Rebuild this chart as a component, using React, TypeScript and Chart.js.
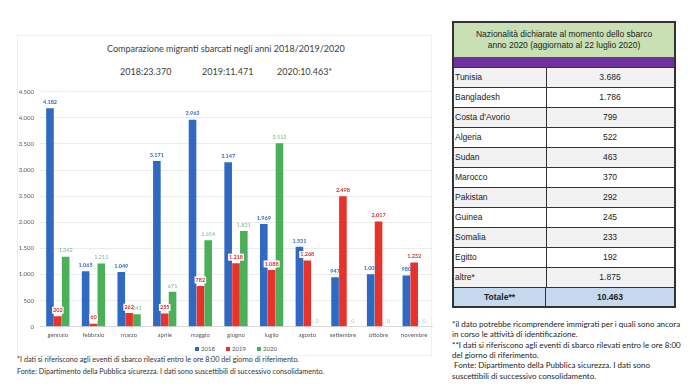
import React, { useEffect, useRef } from 'react';
import { Chart, registerables } from 'chart.js';

Chart.register(...registerables);

const months = ['gennaio', 'febbraio', 'marzo', 'aprile', 'maggio', 'giugno', 'luglio', 'agosto', 'settembre', 'ottobre', 'novembre'];
const years = ['2018', '2019', '2020'];
const values2018 = [4182, 1065, 1049, 3171, 3963, 3147, 1969, 1531, 947, 1007, 980];
const values2019 = [202, 60, 262, 255, 782, 1218, 1088, 1268, 2498, 2017, 1232];
const values2020 = [1342, 1211, 241, 671, 1654, 1831, 3513, 0, 0, 0, 0];
const yMax = 4500;
const yStep = 500;

const chartTitle = 'Comparazione migranti sbarcati negli anni 2018/2019/2020';
const yearTotals = ['2018:23.370', '2019:11.471', '2020:10.463*'];

const tableTitle = ['Nazionalità dichiarate al momento dello sbarco', 'anno 2020 (aggiornato al 22 luglio 2020)'];
const countries = ['Tunisia', 'Bangladesh', "Costa d'Avorio", 'Algeria', 'Sudan', 'Marocco', 'Pakistan', 'Guinea', 'Somalia', 'Egitto', 'altre*'];
const countryCounts = ['3.686', '1.786', '799', '522', '463', '370', '292', '245', '233', '192', '1.875'];
const totalLabel = 'Totale**';
const totalValue = '10.463';

const leftNotes = [
  '*I dati si riferiscono agli eventi di sbarco rilevati entro le ore 8:00 del giorno di riferimento.',
  'Fonte: Dipartimento della Pubblica sicurezza. I dati sono suscettibili di successivo consolidamento.',
];
const rightNotes = [
  '*il dato potrebbe ricomprendere immigrati per i quali sono ancora',
  'in corso le attività di identificazione.',
  '**I dati si riferiscono agli eventi di sbarco rilevati entro le ore 8:00',
  'del giorno di riferimento.',
  '\u00a0Fonte: Dipartimento della Pubblica sicurezza. I dati sono',
  'suscettibili di successivo consolidamento.',
];

const barColors = ['#2f69c2', '#e8332a', '#4caf5a'];
const labelColors = ['#3568bf', '#e0302a', '#7fb889'];

const fmt = (n: number) => String(n).replace(/\B(?=(\d{3})+(?!\d))/g, '.');

const FONT = 'Lato, "Open Sans", sans-serif';
const TABLE_FONT = '"Liberation Sans", Arial, sans-serif';

const labelPlugin = {
  id: 'barLabels',
  afterDatasetsDraw(chart: any) {
    const ctx = chart.ctx;
    chart.data.datasets.forEach((ds: any, i: number) => {
      const meta = chart.getDatasetMeta(i);
      meta.data.forEach((bar: any, j: number) => {
        const v = ds.data[j] as number;
        const txt = fmt(v);
        ctx.save();
        ctx.font = (i === 2 ? '' : 'bold ') + '5.5px ' + FONT;
        ctx.textAlign = 'center';
        ctx.textBaseline = 'middle';
        const x = bar.x;
        const y = bar.y - 6;
        if (i === 1) {
          const w = ctx.measureText(txt).width + 2;
          ctx.fillStyle = '#ffffff';
          ctx.fillRect(x - w / 2, y - 3.5, w, 7);
        }
        ctx.fillStyle = v === 0 ? '#a9c9ad' : labelColors[i];
        ctx.fillText(txt, v === 0 ? x + 2 : x, y);
        ctx.restore();
      });
    });
  },
};

function BarChart() {
  const ref = useRef<HTMLCanvasElement | null>(null);
  useEffect(() => {
    if (!ref.current) return;
    const chart = new Chart(ref.current, {
      type: 'bar',
      data: {
        labels: months,
        datasets: [values2018, values2019, values2020].map((d, i) => ({
          label: years[i],
          data: d,
          backgroundColor: barColors[i],
          borderWidth: 0,
          categoryPercentage: 0.66,
          barPercentage: 0.97,
        })),
      },
      options: {
        animation: false,
        responsive: false,
        maintainAspectRatio: false,
        layout: { padding: { top: 6.4, right: 4, left: 0, bottom: 0 } },
        plugins: {
          title: { display: false },
          tooltip: { enabled: false },
          legend: { display: false },
        },
        scales: {
          x: {
            grid: { display: false, drawTicks: false, tickLength: 0 },
            border: { display: true, color: '#d9d9d9' },
            ticks: { color: '#595959', font: { size: 6, family: FONT }, padding: 4.5, maxRotation: 0, autoSkip: false },
          },
          y: {
            min: 0,
            max: yMax,
            ticks: {
              stepSize: yStep,
              color: '#595959',
              font: { size: 6, family: FONT },
              padding: 6,
              callback: (v: any) => fmt(Number(v)),
            },
            grid: { color: '#ececec', drawTicks: false },
            border: { display: false },
            afterFit: (scale: any) => {
              scale.width = 30;
            },
          },
        },
      },
      plugins: [labelPlugin],
    });
    return () => chart.destroy();
  }, []);
  return <canvas ref={ref} width={426} height={261} style={{ position: 'absolute', left: 10, top: 82.4, width: 426, height: 261 }} />;
}

export default function App() {
  const rowTop = 67;
  const rowH = 20;
  return (
    <div style={{ position: 'absolute', left: 0, top: 0, width: 690, height: 390, background: '#ffffff', overflow: 'hidden', fontFamily: FONT }}>
      <div style={{ position: 'absolute', left: 17, top: 35, width: 415, height: 321, border: '1px solid #f0f0f0', boxSizing: 'border-box' }} />
      <div style={{ position: 'absolute', left: 107, top: 43, fontSize: 9, color: '#404040', whiteSpace: 'nowrap' }}>{chartTitle}</div>
      {yearTotals.map((t, i) => (
        <div key={t} style={{ position: 'absolute', left: [120, 202, 277][i], top: 66, fontSize: 9, color: '#404040', whiteSpace: 'nowrap' }}>{t}</div>
      ))}
      <BarChart />
      <div style={{ position: 'absolute', left: 195, top: 345, width: 82, display: 'flex', justifyContent: 'space-between', fontSize: 6, lineHeight: '8px', color: '#595959' }}>
        {years.map((y, i) => (
          <span key={y} style={{ display: 'flex', alignItems: 'center' }}>
            <span style={{ display: 'inline-block', width: 4, height: 4, background: barColors[i], marginRight: 2 }} />
            {y}
          </span>
        ))}
      </div>
      {leftNotes.map((t, i) => (
        <div key={i} style={{ position: 'absolute', left: 17, top: 355 + i * 11.5, fontSize: 7.2, color: '#333', whiteSpace: 'nowrap', lineHeight: '10px' }}>{t}</div>
      ))}

      <div style={{ position: 'absolute', left: 452, top: 21, width: 224, height: 287, border: '2px solid #333', boxSizing: 'border-box' }} />
      <div style={{ position: 'absolute', left: 454, top: 23, width: 220, height: 34, background: '#c8e0b4', display: 'flex', flexDirection: 'column', justifyContent: 'center', alignItems: 'center', fontFamily: TABLE_FONT, fontSize: 8.5, lineHeight: '11px', color: '#222' }}>
        {tableTitle.map((t) => (
          <div key={t}>{t}</div>
        ))}
      </div>
      <div style={{ position: 'absolute', left: 454, top: 57, width: 220, height: 10, background: '#7030a0' }} />
      {countries.map((c, i) => (
        <div key={c} style={{ position: 'absolute', left: 454, top: rowTop + i * rowH, width: 220, height: rowH, background: i % 2 === 0 ? '#f2f2f2' : '#ffffff', borderTop: '1px solid #333', boxSizing: 'border-box', fontFamily: TABLE_FONT, fontSize: 8.5, color: '#222' }}>
          <div style={{ position: 'absolute', left: 0, top: 0, width: 91, height: rowH - 1, borderRight: '1px solid #333', lineHeight: rowH - 1 + 'px', paddingLeft: 1 }}>{c}</div>
          <div style={{ position: 'absolute', left: 92, top: 0, width: 128, height: rowH - 1, textAlign: 'center', lineHeight: rowH - 1 + 'px' }}>{countryCounts[i]}</div>
        </div>
      ))}
      <div style={{ position: 'absolute', left: 454, top: rowTop + countries.length * rowH, width: 220, height: 19, background: '#c5d9ee', borderTop: '1px solid #333', boxSizing: 'border-box', fontFamily: TABLE_FONT, fontSize: 8.5, fontWeight: 'bold', color: '#222' }}>
        <div style={{ position: 'absolute', left: 0, top: 0, width: 91, height: 18, borderRight: '1px solid #333', lineHeight: '18px', textAlign: 'center' }}>{totalLabel}</div>
        <div style={{ position: 'absolute', left: 92, top: 0, width: 128, height: 18, textAlign: 'center', lineHeight: '18px' }}>{totalValue}</div>
      </div>

      {rightNotes.map((t, i) => (
        <div key={i} style={{ position: 'absolute', left: 452, top: 319 + i * 10.3, fontSize: 8, color: '#222', whiteSpace: 'nowrap', lineHeight: '10px' }}>{t}</div>
      ))}
    </div>
  );
}
